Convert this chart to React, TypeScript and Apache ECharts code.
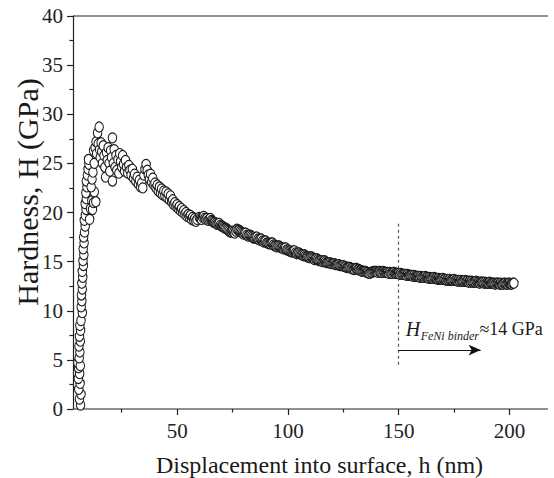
import React, { useEffect, useRef } from "react";
import * as echarts from "echarts";

const FONT = "Liberation Serif";

// Axis ranges; the frame is cut off at the right edge of the image
const X_MIN = 3;
const X_MAX = 220.1;
const X_FRAME_END = 217.4;
const Y_MIN = 0;
const Y_MAX = 40;
const Y_STEP = 5;
const X_TICKS = [50, 100, 150, 200];

const xTitle = "Displacement into surface, h (nm)";
const yTitle = "Hardness, H (GPa)";

// Rising part at small depths: [h (nm), H (GPa)]
const risePoints: number[][] = [
  [6.4, 0.4], [5.9, 1.0], [6.6, 1.5], [5.6, 2.0], [6.2, 2.6], [5.4, 3.1], [6.0, 3.6],
  [5.5, 4.2], [5.2, 4.7], [6.3, 4.4], [5.8, 5.2], [6.1, 5.8], [5.7, 6.4], [6.3, 6.9],
  [5.9, 7.4], [6.4, 8.0], [6.1, 8.5], [6.6, 9.0], [7.2, 9.8], [6.7, 10.4], [7.0, 11.0],
  [6.8, 11.6], [7.2, 12.2], [7.0, 12.8], [7.4, 13.4], [7.2, 14.0], [7.7, 14.6], [7.5, 15.1],
  [7.9, 15.7], [7.6, 16.3], [8.0, 16.9], [7.8, 17.5], [8.2, 18.0], [8.5, 18.6], [8.1, 19.2],
  [8.6, 19.7], [8.9, 20.3], [8.5, 20.9], [9.0, 21.4], [8.8, 22.0], [9.3, 22.6], [9.0, 23.2],
  [9.5, 23.8], [9.8, 24.4], [10.2, 24.9], [10.0, 25.4],
];

// Peak region, scattered
const peakPoints: number[][] = [
  [10.5, 19.3], [10.9, 20.4], [11.5, 21.2], [11.8, 20.3], [12.3, 21.0], [12.6, 22.1],
  [13.3, 21.1], [11.2, 22.6], [11.6, 23.4], [12.0, 24.1], [12.3, 26.3], [12.6, 25.0],
  [13.0, 26.6], [13.4, 27.2], [13.7, 26.0], [14.1, 28.1], [14.8, 28.7], [14.4, 27.0],
  [15.0, 26.4], [15.3, 25.6], [15.7, 27.1], [16.0, 26.2], [16.3, 25.0], [16.7, 26.8],
  [17.0, 25.8], [17.4, 24.6], [17.7, 23.6], [18.1, 26.1], [18.5, 25.3], [18.9, 26.6],
  [19.3, 25.0], [19.6, 24.2], [20.0, 26.3], [20.4, 25.6], [20.8, 27.6], [20.8, 23.2],
  [21.2, 25.0], [21.6, 26.4], [22.0, 24.6], [22.4, 25.8], [22.8, 24.3], [23.3, 25.4],
  [23.7, 24.0], [24.1, 26.0], [24.5, 25.2], [25.0, 24.6], [25.4, 25.8], [25.8, 24.9],
  [26.3, 24.2], [26.7, 25.3], [27.2, 24.6], [27.7, 24.0], [28.2, 24.8], [28.7, 24.3],
  [29.2, 23.8], [29.8, 24.4], [30.3, 23.5], [30.8, 23.9], [31.4, 23.2], [32.0, 23.6],
  [32.5, 22.9], [33.0, 23.3], [33.5, 22.6], [34.0, 23.0], [34.5, 22.5], [35.0, 23.8],
  [35.5, 24.4], [36.0, 24.9], [36.5, 24.3], [37.0, 23.8], [37.5, 23.4], [38.0, 23.9],
  [38.5, 23.1], [39.0, 23.5], [39.5, 22.8], [40.0, 23.0], [40.5, 22.5], [41.0, 22.8],
  [41.5, 22.2], [42.0, 22.6], [42.5, 22.0], [43.0, 22.4], [43.5, 21.8], [44.0, 22.2],
  [44.5, 21.7], [45.0, 22.1], [45.5, 21.5], [46.0, 21.9], [46.5, 21.3], [47.0, 21.7],
  [47.5, 21.1], [48.0, 21.3], [48.5, 20.8], [49.0, 21.0], [49.5, 20.6], [50.0, 20.8],
  [50.5, 20.4], [51.0, 20.6], [51.5, 20.2], [52.0, 20.4], [52.5, 20.0], [53.0, 20.2],
  [53.5, 19.8], [54.0, 20.0], [54.5, 19.6], [55.0, 19.8], [55.5, 19.5], [56.0, 19.7],
  [56.5, 19.3], [57.0, 19.5], [57.5, 19.2], [58.0, 19.4], [58.5, 19.1], [59.0, 19.3],
];

// Smooth descending tail
const tailPoints: number[][] = [
  [60, 19.5], [60.5, 19.4], [61, 19.3], [61.5, 19.5], [62, 19.6], [62.5, 19.4], [63, 19.3],
  [63.5, 19.4], [64, 19.2], [64.5, 19.3], [65, 19.4], [65.5, 19.2], [66, 19.1], [66.5, 19.0],
  [67, 19.0], [67.5, 18.9], [68, 18.8], [68.5, 18.9], [69, 18.9], [69.5, 18.7], [70, 18.6],
  [70.5, 18.6], [71, 18.5], [71.5, 18.4], [72, 18.4], [72.5, 18.3], [73, 18.2], [73.5, 18.1],
  [74, 18.0], [74.5, 18.0], [75, 18.1], [75.5, 18.0], [76, 17.9], [76.5, 18.1], [77, 18.3],
  [77.5, 18.2], [78, 18.2], [78.5, 18.1], [79, 18.0], [79.5, 17.9], [80, 17.8], [80.5, 17.9],
  [81, 17.9], [81.5, 17.7], [82, 17.6], [82.5, 17.7], [83, 17.7], [83.5, 17.6], [84, 17.5],
  [84.5, 17.4], [85, 17.4], [85.5, 17.5], [86, 17.5], [86.5, 17.3], [87, 17.2], [87.5, 17.3],
  [88, 17.3], [88.5, 17.1], [89, 17.0], [89.5, 17.1], [90, 17.1], [90.5, 16.9], [91, 16.9],
  [91.5, 16.8], [92, 16.8], [92.5, 16.9], [93, 16.9], [93.5, 16.7], [94, 16.6], [94.5, 16.6],
  [95, 16.5], [95.5, 16.6], [96, 16.6], [96.5, 16.5], [97, 16.4], [97.5, 16.4], [98, 16.3],
  [98.5, 16.4], [99, 16.4], [99.5, 16.2], [100, 16.2], [100.5, 16.1], [101, 16.1], [101.5, 16.0],
  [102, 16.0], [102.5, 16.1], [103, 16.1], [103.5, 15.9], [104, 15.8], [104.5, 15.9], [105, 15.9],
  [105.5, 15.8], [106, 15.7], [106.5, 15.7], [107, 15.6], [107.5, 15.7], [108, 15.6], [108.5, 15.5],
  [109, 15.5], [109.5, 15.4], [110, 15.4], [110.5, 15.5], [111, 15.4], [111.5, 15.3], [112, 15.2],
  [112.5, 15.3], [113, 15.3], [113.5, 15.2], [114, 15.1], [114.5, 15.1], [115, 15.1], [115.5, 15.0],
  [116, 15.0], [116.5, 15.1], [117, 15.0], [117.5, 14.9], [118, 14.9], [118.5, 14.9], [119, 14.9],
  [119.5, 14.8], [120, 14.8], [120.5, 14.8], [121, 14.8], [121.5, 14.7], [122, 14.7], [122.5, 14.7],
  [123, 14.7], [123.5, 14.6], [124, 14.6], [124.5, 14.6], [125, 14.6], [125.5, 14.5], [126, 14.5],
  [126.5, 14.4], [127, 14.4], [127.5, 14.4], [128, 14.4], [128.5, 14.3], [129, 14.3], [129.5, 14.2],
  [130, 14.2], [130.5, 14.3], [131, 14.3], [131.5, 14.2], [132, 14.2], [132.5, 14.1], [133, 14.1],
  [133.5, 14.0], [134, 14.0], [134.5, 14.0], [135, 14.0], [135.5, 13.9], [136, 13.9], [136.5, 13.8],
  [137, 13.8], [137.5, 13.9], [138, 13.9], [138.5, 14.0], [139, 14.0], [139.5, 14.0], [140, 14.0],
  [140.5, 13.9], [141, 14.0], [141.5, 14.0], [142, 13.9], [142.5, 13.9], [143, 14.0], [143.5, 13.9],
  [144, 13.9], [144.5, 13.9], [145, 13.9], [145.5, 13.8], [146, 13.9], [146.5, 13.8], [147, 13.8],
  [147.5, 13.9], [148, 13.9], [148.5, 13.8], [149, 13.8], [149.5, 13.8], [150, 13.8], [150.5, 13.7],
  [151, 13.8], [151.5, 13.7], [152, 13.7], [152.5, 13.7], [153, 13.7], [153.5, 13.6], [154, 13.7],
  [154.5, 13.6], [155, 13.6], [155.5, 13.6], [156, 13.6], [156.5, 13.5], [157, 13.6], [157.5, 13.5],
  [158, 13.5], [158.5, 13.5], [159, 13.5], [159.5, 13.4], [160, 13.5], [160.5, 13.4], [161, 13.4],
  [161.5, 13.4], [162, 13.5], [162.5, 13.4], [163, 13.4], [163.5, 13.3], [164, 13.4], [164.5, 13.3],
  [165, 13.3], [165.5, 13.3], [166, 13.4], [166.5, 13.3], [167, 13.3], [167.5, 13.2], [168, 13.3],
  [168.5, 13.2], [169, 13.2], [169.5, 13.2], [170, 13.3], [170.5, 13.2], [171, 13.2], [171.5, 13.1],
  [172, 13.2], [172.5, 13.1], [173, 13.2], [173.5, 13.1], [174, 13.1], [174.5, 13.1], [175, 13.2],
  [175.5, 13.1], [176, 13.1], [176.5, 13.0], [177, 13.1], [177.5, 13.0], [178, 13.1], [178.5, 13.0],
  [179, 13.0], [179.5, 13.0], [180, 13.1], [180.5, 13.0], [181, 13.0], [181.5, 12.9], [182, 13.0],
  [182.5, 12.9], [183, 13.0], [183.5, 12.9], [184, 12.9], [184.5, 12.9], [185, 13.0], [185.5, 12.9],
  [186, 12.9], [186.5, 12.8], [187, 12.9], [187.5, 12.9], [188, 12.9], [188.5, 12.8], [189, 12.9],
  [189.5, 12.8], [190, 12.8], [190.5, 12.8], [191, 12.9], [191.5, 12.8], [192, 12.8], [192.5, 12.8],
  [193, 12.8], [193.5, 12.7], [194, 12.8], [194.5, 12.8], [195, 12.8], [195.5, 12.7], [196, 12.8],
  [196.5, 12.7], [197, 12.7], [197.5, 12.8], [198, 12.8], [198.5, 12.7], [199, 12.7], [199.5, 12.8],
  [200, 12.8], [200.5, 12.7], [201, 12.7], [201.5, 12.8], [202, 12.8],
];

// Annotation
const binderDepth = 150;
const dashFrom = 4.5;
const dashTo = 19.1;
const arrowLevel = 6;
const arrowEnd = 187;
const annoMain = "H";
const annoSub = "FeNi binder";
const annoValue = "≈14 GPa";

function measure(text: string, font: string): number {
  const c = document.createElement("canvas").getContext("2d");
  if (!c) return text.length * 8;
  c.font = font;
  return c.measureText(text).width;
}

export default function App() {
  const ref = useRef<HTMLDivElement>(null);
  useEffect(() => {
    if (!ref.current) return;
    const chart = echarts.init(ref.current, null, { renderer: "svg" });
    const data = [...risePoints, ...peakPoints, ...tailPoints];
    const axisColor = "#222";
    const labelStyle = {
      fontFamily: FONT, fontSize: 21, color: axisColor, fontWeight: "normal", fontStyle: "normal",
    };
    chart.setOption({
      animation: false,
      backgroundColor: "#fff",
      textStyle: { fontFamily: FONT },
      grid: { show: false, borderWidth: 0, left: 73, right: 0, top: 16, bottom: 69, containLabel: false },
      xAxis: {
        type: "value",
        min: X_MIN,
        max: X_MAX,
        splitNumber: 4,
        position: "bottom",
        axisLine: { show: false },
        axisTick: { show: true, inside: false, length: 6, customValues: X_TICKS, lineStyle: { color: axisColor, width: 1.2 } },
        minorTick: { show: true, splitNumber: 2, length: 3.5, lineStyle: { color: axisColor, width: 1.2 } },
        axisLabel: { ...labelStyle, margin: 11, customValues: X_TICKS },
        splitLine: { show: false },
        minorSplitLine: { show: false },
      },
      yAxis: {
        type: "value",
        min: Y_MIN,
        max: Y_MAX,
        interval: Y_STEP,
        position: "left",
        axisLine: { show: true, onZero: false, lineStyle: { color: axisColor, width: 1.2 } },
        axisTick: { show: true, inside: false, length: 6, lineStyle: { color: axisColor, width: 1.2 } },
        minorTick: { show: true, splitNumber: 2, length: 3.5, lineStyle: { color: axisColor, width: 1.2 } },
        axisLabel: { ...labelStyle, margin: 10 },
        splitLine: { show: false },
        minorSplitLine: { show: false },
      },
      series: [
        {
          type: "scatter",
          data,
          symbol: "circle",
          symbolSize: [8.5, 10],
          itemStyle: { color: "#fff", borderColor: "#1a1a1a", borderWidth: 1.1, opacity: 1 },
          emphasis: { disabled: true },
          markLine: {
            silent: true,
            animation: false,
            label: { show: false },
            emphasis: { disabled: true },
            data: [
              [
                { coord: [binderDepth, dashFrom], symbol: "none", lineStyle: { color: "#555", type: [3, 3], width: 1.2 } },
                { coord: [binderDepth, dashTo], symbol: "none" },
              ],
              [
                { coord: [binderDepth, arrowLevel], symbol: "none", lineStyle: { color: "#111", type: "solid", width: 1 } },
                { coord: [arrowEnd, arrowLevel], symbol: "arrow", symbolSize: [8, 12] },
              ],
            ],
          },
        },
      ],
    });

    const px = (p: number[]) => chart.convertToPixel({ seriesIndex: 0 }, p) as number[];
    const anchor = px([binderDepth, arrowLevel]);
    const topLeft = px([X_MIN, Y_MAX]);
    const topRight = px([X_FRAME_END, Y_MAX]);
    const botLeft = px([X_MIN, Y_MIN]);
    const botRight = px([X_FRAME_END, Y_MIN]);
    const fMain = `italic 20px ${FONT}`;
    const fSub = `italic 12px ${FONT}`;
    const fVal = `18px ${FONT}`;
    const wMain = measure(annoMain, fMain);
    const wSub = measure(annoSub, fSub);
    const x0 = anchor[0] + 7;
    const yMid = anchor[1] - 21;
    const txt = (text: string, x: number, y: number, font: string) => ({
      type: "text",
      x,
      y,
      silent: true,
      style: {
        text, font, fill: "#1a1a1a",
        align: "left", verticalAlign: "middle",
        textAlign: "left", textVerticalAlign: "middle",
      },
    });
    chart.setOption({
      graphic: [
        {
          type: "line",
          silent: true,
          shape: { x1: topLeft[0], y1: topLeft[1], x2: topRight[0], y2: topRight[1] },
          style: { stroke: axisColor, lineWidth: 1.2 },
        },
        {
          type: "line",
          silent: true,
          shape: { x1: botLeft[0], y1: botLeft[1], x2: botRight[0], y2: botRight[1] },
          style: { stroke: axisColor, lineWidth: 1.2 },
        },
        txt(annoMain, x0, yMid, fMain),
        txt(annoSub, x0 + wMain + 0.5, yMid + 7, fSub),
        txt(annoValue, x0 + wMain + wSub + 1, yMid, fVal),
        {
          type: "text",
          x: 319.5,
          y: 465,
          silent: true,
          style: {
            text: xTitle, font: `24px ${FONT}`, fill: "#1a1a1a",
            align: "center", verticalAlign: "middle", textAlign: "center", textVerticalAlign: "middle",
          },
        },
        {
          type: "text",
          x: 27,
          y: 192,
          rotation: Math.PI / 2,
          silent: true,
          style: {
            text: yTitle, font: `30px ${FONT}`, fill: "#1a1a1a",
            align: "center", verticalAlign: "middle", textAlign: "center", textVerticalAlign: "middle",
          },
        },
      ],
    });
    return () => chart.dispose();
  }, []);
  return (
    <div
      ref={ref}
      style={{ position: "fixed", left: 0, top: 0, width: 554, height: 478, background: "#fff" }}
    />
  );
}
